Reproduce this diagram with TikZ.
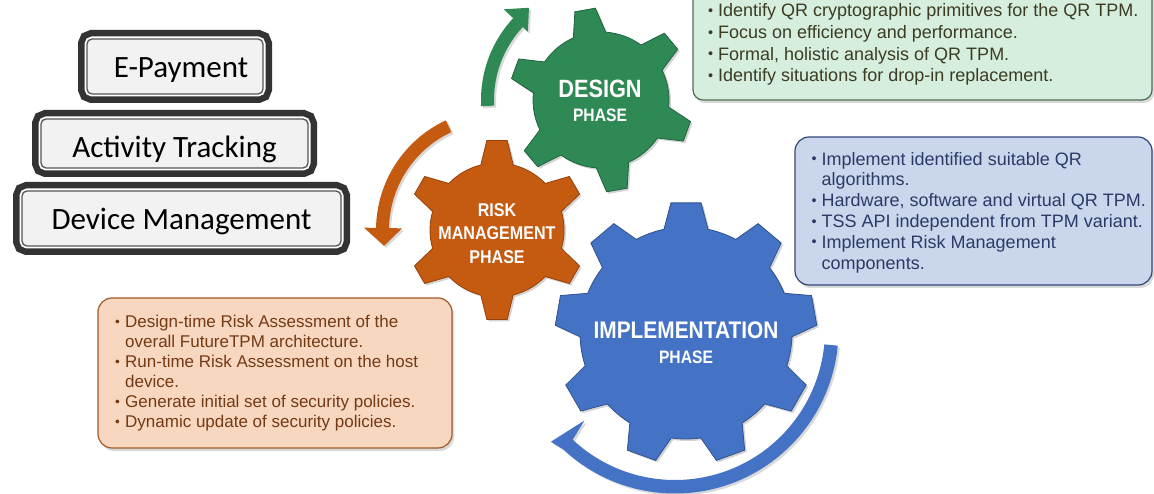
\documentclass[tikz,border=0pt]{standalone}
\usepackage{fontspec}
\usepackage{graphicx}
\setmainfont{Liberation Sans}
\newfontfamily\tagfont{Carlito}
\newfontfamily\gearfont[FakeStretch=0.87]{Liberation Sans}
\usetikzlibrary{shadows}

\definecolor{gearG}{RGB}{46,137,85}
\definecolor{gearGline}{RGB}{30,100,60}
\definecolor{gearO}{RGB}{197,90,17}
\definecolor{gearOline}{RGB}{150,65,10}
\definecolor{gearB}{RGB}{68,114,196}
\definecolor{gearBline}{RGB}{47,82,143}
\definecolor{boxGfill}{RGB}{214,238,222}
\definecolor{boxGline}{RGB}{80,110,80}
\definecolor{boxGtext}{RGB}{60,60,35}
\definecolor{boxBfill}{RGB}{201,214,236}
\definecolor{boxBline}{RGB}{50,70,120}
\definecolor{boxBtext}{RGB}{43,58,103}
\definecolor{boxOfill}{RGB}{248,215,192}
\definecolor{boxOline}{RGB}{160,90,40}
\definecolor{boxOtext}{RGB}{115,58,20}
\definecolor{tagdark}{RGB}{51,51,51}
\definecolor{tagline}{RGB}{85,85,85}
\definecolor{tagfill}{RGB}{242,242,242}

% bullet and continuation indent for the note boxes
\newcommand\bul{\makebox[10pt][l]{\raisebox{0.08em}{\scalebox{0.8}{\textbullet}}}}
\newcommand\cont{\hspace*{10pt}}

% gear outline: #1 teeth, #2 root radius, #3 tip radius,
% #4 half-angle at the root, #5 half-angle at the tip, #6 rotation
\newcommand\gearpath[6]{({#6-#4}:#2pt)
  \foreach \k in {1,...,#1}{
    -- ({#6+(\k-1)*360/#1-#4}:#2pt) -- ({#6+(\k-1)*360/#1-#5}:#3pt)
    -- ({#6+(\k-1)*360/#1+#5}:#3pt) -- ({#6+(\k-1)*360/#1+#4}:#2pt)
    arc[start angle={#6+(\k-1)*360/#1+#4}, end angle={#6+\k*360/#1-#4}, radius=#2pt]
  } -- cycle}

\tikzset{
  gear/.style={line width=0.8pt, drop shadow={shadow xshift=2pt, shadow yshift=-2pt, opacity=0.35}},
  bentarrow/.style={drop shadow={shadow xshift=2pt, shadow yshift=-2pt, opacity=0.3}},
  notebox/.style={line width=1.2pt, drop shadow={shadow xshift=2pt, shadow yshift=-3pt, opacity=0.3}},
  notetext/.style={anchor=north west, inner sep=0pt, align=left},
  gearlabel/.style={text=white, font=\gearfont\bfseries, inner sep=0pt, align=center},
  tagbox/.style={rounded corners=5pt, fill=tagfill, draw=tagline, line width=1.3pt,
    preaction={draw=tagdark, line width=18pt},
    preaction={draw=white, line width=5pt},
    inner sep=0pt, text height=30pt, text depth=7pt,
    font=\tagfont\fontsize{31}{31}\selectfont},
}

\begin{document}
\begin{tikzpicture}[x=1pt,y=1pt]
\useasboundingbox (0,0) rectangle (1154,494);

% application stack on the left
\node[tagbox, minimum width=176pt, minimum height=55pt] (pay) at (175,427.5) {\hspace*{12pt}E-Payment};
\node[tagbox, minimum width=267pt, minimum height=49pt, text height=36pt] (act) at (174.5,350.5) {Activity Tracking};
\node[tagbox, minimum width=319pt, minimum height=55pt] (dev) at (181.5,275.5) {Device Management};

% curved arrows turning the gears
\fill[gearG, bentarrow, shift={(601,394)}]
  (183:120pt) arc[start angle=183, end angle=137, radius=120pt]
  -- (137:133pt) -- (128:117pt) -- (137:100pt) -- (137:107pt)
  arc[start angle=137, end angle=183, radius=107pt] -- cycle;
\fill[gearO, bentarrow, shift={(497,264)}]
  (115:121pt) arc[start angle=115, end angle=179, radius=121pt]
  -- (179:133pt) -- (188:114pt) -- (179:95pt) -- (179:108pt)
  arc[start angle=179, end angle=115, radius=108pt] -- cycle;
\fill[gearB, bentarrow, shift={(675,164)}]
  (-5.5:163.5pt) arc[start angle=-5.5, end angle=-133, radius=163.5pt]
  -- (-138:167pt) -- (-135:128pt) -- (-133:150pt)
  arc[start angle=-133, end angle=-5.5, radius=150pt] -- cycle;

% the three gears
\filldraw[gear, fill=gearO, draw=gearOline, shift={(497,264)}] \gearpath{6}{67}{90}{14}{6.5}{90};
\filldraw[gear, fill=gearG, draw=gearGline, shift={(601,394)}] \gearpath{6}{68}{92}{14}{6.5}{100};
\filldraw[gear, fill=gearB, draw=gearBline, shift={(686,161)}] \gearpath{9}{106}{131}{12}{6.6}{90};

% gear captions
\node[gearlabel, font=\gearfont\bfseries\fontsize{25}{25}\selectfont] (designT) at (600,405) {DESIGN};
\node[gearlabel, font=\gearfont\bfseries\fontsize{18}{18}\selectfont] (designP) at (600,379) {PHASE};
\node[gearlabel, font=\gearfont\bfseries\fontsize{18.5}{23.5}\selectfont] (risk) at (497,260.5) {RISK\\MANAGEMENT\\PHASE};
\node[gearlabel, font=\gearfont\bfseries\fontsize{24}{24}\selectfont] (implT) at (686,164) {IMPLEMENTATION};
\node[gearlabel, font=\gearfont\bfseries\fontsize{18}{18}\selectfont] (implP) at (686,137) {PHASE};

% note boxes
\draw[notebox, fill=boxGfill, draw=boxGline, rounded corners=10pt] (693,509) rectangle (1152,394);
\draw[notebox, fill=boxBfill, draw=boxBline, rounded corners=14pt] (795,357) rectangle (1152,209);
\draw[notebox, fill=boxOfill, draw=boxOline, rounded corners=14pt] (98,196) rectangle (452,46);

\node[notetext, text=boxGtext, font=\fontsize{18}{21.7}\selectfont] (designNote) at (708,490.4) {%
\bul Identify QR cryptographic primitives for the QR TPM.\\
\bul Focus on efficiency and performance.\\
\bul Formal, holistic analysis of QR TPM.\\
\bul Identify situations for drop-in replacement.};

\node[notetext, text=boxBtext, font=\fontsize{18}{20.8}\selectfont] (implNote) at (811.5,342.1) {%
\bul Implement identified suitable QR\\
\cont algorithms.\\
\bul Hardware, software and virtual QR TPM.\\
\bul TSS API independent from TPM variant.\\
\bul Implement Risk Management\\
\cont components.};

\node[notetext, text=boxOtext, font=\fontsize{17}{20}\selectfont] (riskNote) at (115,179.1) {%
\bul Design-time Risk Assessment of the\\
\cont overall FutureTPM architecture.\\
\bul Run-time Risk Assessment on the host\\
\cont device.\\
\bul Generate initial set of security policies.\\
\bul Dynamic update of security policies.};
\end{tikzpicture}
\end{document}
